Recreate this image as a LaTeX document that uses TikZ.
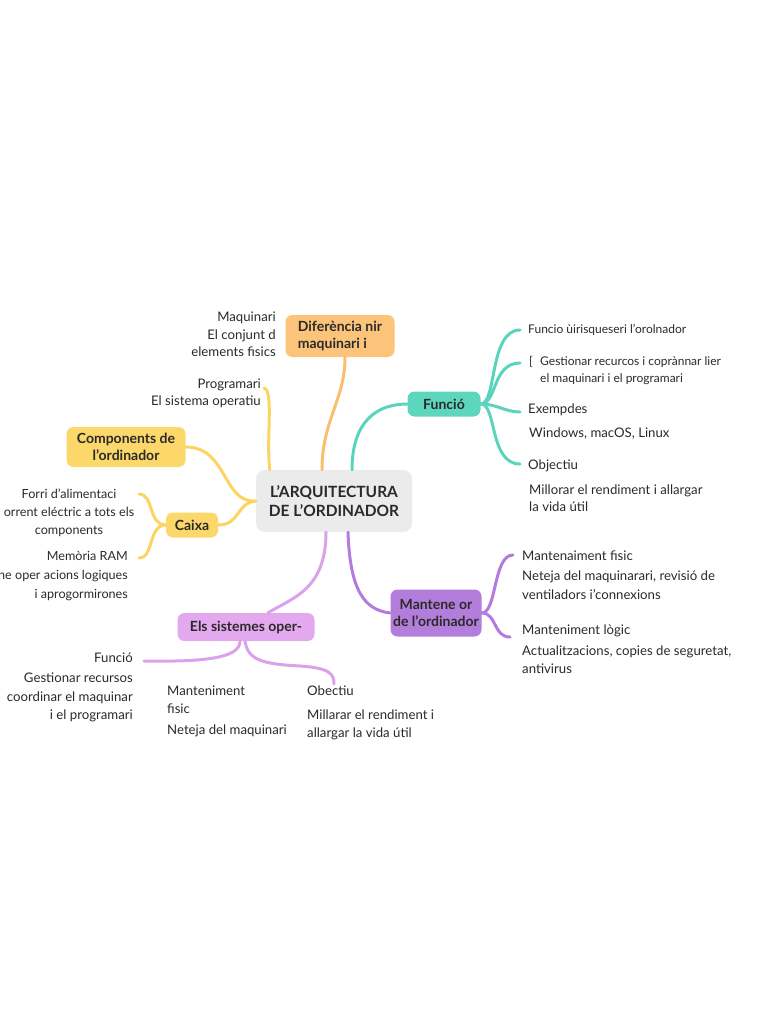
\documentclass[tikz,border=0pt]{standalone}
\usepackage{fontspec}
\setmainfont{Lato}

\definecolor{txt}{HTML}{2A2A2A}
\definecolor{rootgray}{HTML}{EBEBEB}
\definecolor{orangefill}{HTML}{FCC47A}
\definecolor{orangeline}{HTML}{FBBE6E}
\definecolor{yellowfill}{HTML}{FCD86A}
\definecolor{yellowline}{HTML}{FCD462}
\definecolor{tealfill}{HTML}{5ED6BE}
\definecolor{tealline}{HTML}{5BD4BD}
\definecolor{purplefill}{HTML}{B37EDB}
\definecolor{purpleline}{HTML}{B47BDF}
\definecolor{lilacfill}{HTML}{E4A8EE}
\definecolor{lilacline}{HTML}{DBA1EC}

\tikzset{
	root/.style={fill=rootgray, text=txt, rounded corners=9pt, align=center, minimum width=156pt, minimum height=62pt, font=\bfseries\fontsize{15.5}{19}\selectfont},
	topic/.style={text=txt, rounded corners=7pt, align=left, inner sep=2pt, font=\bfseries\fontsize{14}{17}\selectfont},
	leaf/.style={text=txt, inner sep=0pt, font=\fontsize{13.2}{18}\selectfont},
	small/.style={leaf, font=\fontsize{12}{17}\selectfont},
	branch/.style={line width=3pt, line cap=round}
}

\begin{document}
\begin{tikzpicture}[x=1pt,y=-1pt]
\useasboundingbox (0,0) rectangle (768,1024);

\node (root) at (334,501) [root] {L'ARQUITECTURA\\DE L'ORDINADOR};

\node (dif) at (340,336) [topic,fill=orangefill,minimum width=109pt,minimum height=42pt] {Diferència nir\\maquinari i};
\node (comp) at (126,447) [topic,fill=yellowfill,minimum width=119pt,minimum height=40pt,align=center] {Components de\\l'ordinador};
\node (caixa) at (192,525) [topic,fill=yellowfill,minimum width=52pt,minimum height=25pt] {Caixa};
\node (funcio) at (444,404) [topic,fill=tealfill,minimum width=73pt,minimum height=25pt] {Funció};
\node (mant) at (436,613) [topic,fill=purplefill,minimum width=91pt,minimum height=47pt,align=center] {Mantene or\\de l'ordinador};
\node (sist) at (246,627) [topic,fill=lilacfill,minimum width=137pt,minimum height=28pt] {Els sistemes oper-};

% left side
\node (maq) at (276,312) [leaf,anchor=north east,align=right,font=\fontsize{13.2}{17.5}\selectfont] {Maquinari\\El conjunt d\\elements fisics};
\node (prog) at (261,379) [leaf,anchor=north east,align=right,font=\fontsize{13.2}{17}\selectfont] {Programari\\El sistema operatiu};
\node (forri) at (69,489) [leaf,anchor=north,align=center,font=\fontsize{12.6}{18}\selectfont] {Forri d'alimentaci\\orrent eléctric a tots els\\components};
\node (mem) at (128,551) [leaf,anchor=north east,align=right,font=\fontsize{12.6}{19}\selectfont] {Memòria RAM\\ne oper acions logiques\\i aprogormirones};

% right side, funcio
\node (tfun) at (528,324) [small,anchor=north west] {Funcio ùirisqueseri l'orolnador};
\node (tbr) at (529,356) [small,anchor=north west] {[};
\node (tgest) at (540,356) [small,anchor=north west,align=left] {Gestionar recurcos i coprànnar lier\\el maquinari i el programari};
\node (texem) at (528,404) [leaf,anchor=north west] {Exempdes};
\node (twin) at (529,428) [leaf,anchor=north west] {Windows, macOS, Linux};
\node (tobj) at (528,460) [leaf,anchor=north west] {Objectiu};
\node (tmill) at (529,485) [leaf,anchor=north west,align=left,font=\fontsize{13.2}{17}\selectfont] {Millorar el rendiment i allargar\\la vida útil};

% right side, manteniment
\node (mfis) at (522,551) [leaf,anchor=north west] {Mantenaiment fisic};
\node (mnet) at (522,571) [leaf,anchor=north west,align=left,font=\fontsize{13.2}{19}\selectfont] {Neteja del maquinarari, revisió de\\ventiladors i'connexions};
\node (mlog) at (522,625) [leaf,anchor=north west] {Manteniment lògic};
\node (mact) at (522,646) [leaf,anchor=north west,align=left] {Actualitzacions, copies de seguretat,\\antivirus};

% bottom, sistemes
\node (sfun) at (133,653) [leaf,anchor=north east] {Funció};
\node (sgest) at (133,673) [leaf,anchor=north east,align=right,font=\fontsize{13.2}{18.5}\selectfont] {Gestionar recursos\\coordinar el maquinar\\i el programari};
\node (sman) at (167,686) [leaf,anchor=north west,align=left] {Manteniment\\fisic};
\node (snet) at (167,725) [leaf,anchor=north west] {Neteja del maquinari};
\node (sobj) at (307,686) [leaf,anchor=north west] {Obectiu};
\node (smill) at (307,710) [leaf,anchor=north west,align=left] {Millarar el rendiment i\\allargar la vida útil};

% free ends
\coordinate (progend) at (264,388);
\coordinate (forriend) at (139,494);
\coordinate (memend) at (139,558);
\coordinate (tf1) at (520,330);
\coordinate (tf2) at (520,363);
\coordinate (tf3) at (520,412);
\coordinate (tf4) at (520,464);
\coordinate (mp1) at (513,555);
\coordinate (mp2) at (510,637);
\coordinate (sl) at (144,661);
\coordinate (sr) at (334,684);

% connectors
\draw [branch,orangeline] ([xshift=-12pt]root.north) .. controls (322,420) and (345,400) .. ([xshift=5pt]dif.south);
\draw [branch,yellowline] (progend) .. controls (274,390) and (266,440) .. ([xshift=14pt]root.north west);
\draw [branch,yellowline] (comp.east) .. controls (228,447) and (222,503) .. (root.west);
\draw [branch,yellowline] (caixa.east) .. controls (240,525) and (236,503) .. (root.west);
\draw [branch,yellowline] (caixa.west) .. controls (148,525) and (154,494) .. (forriend);
\draw [branch,yellowline] (caixa.west) .. controls (148,525) and (154,558) .. (memend);

\draw [branch,tealline] ([xshift=18pt]root.north) .. controls (352,420) and (378,404) .. (funcio.west);
\draw [branch,tealline] (funcio.east) .. controls (497,404) and (489,330) .. (tf1);
\draw [branch,tealline] (funcio.east) .. controls (497,404) and (492,363) .. (tf2);
\draw [branch,tealline] (funcio.east) .. controls (497,404) and (505,412) .. (tf3);
\draw [branch,tealline] (funcio.east) .. controls (497,404) and (489,464) .. (tf4);

\draw [branch,purpleline] ([xshift=14pt]root.south) .. controls (350,590) and (364,610) .. (mant.west);
\draw [branch,purpleline] (mant.east) .. controls (497,613) and (493,555) .. (mp1);
\draw [branch,purpleline] (mant.east) .. controls (497,613) and (493,637) .. (mp2);

\draw [branch,lilacline] ([xshift=-8pt]root.south) .. controls (326,590) and (292,598) .. ([xshift=22pt]sist.north);
\draw [branch,lilacline] ([xshift=-6pt]sist.south) .. controls (240,658) and (205,662) .. (sl);
\draw [branch,lilacline] ([xshift=-1pt]sist.south) .. controls (248,660) and (262,664) .. (300,666) .. controls (330,668) and (334,674) .. (sr);

\end{tikzpicture}
\end{document}
